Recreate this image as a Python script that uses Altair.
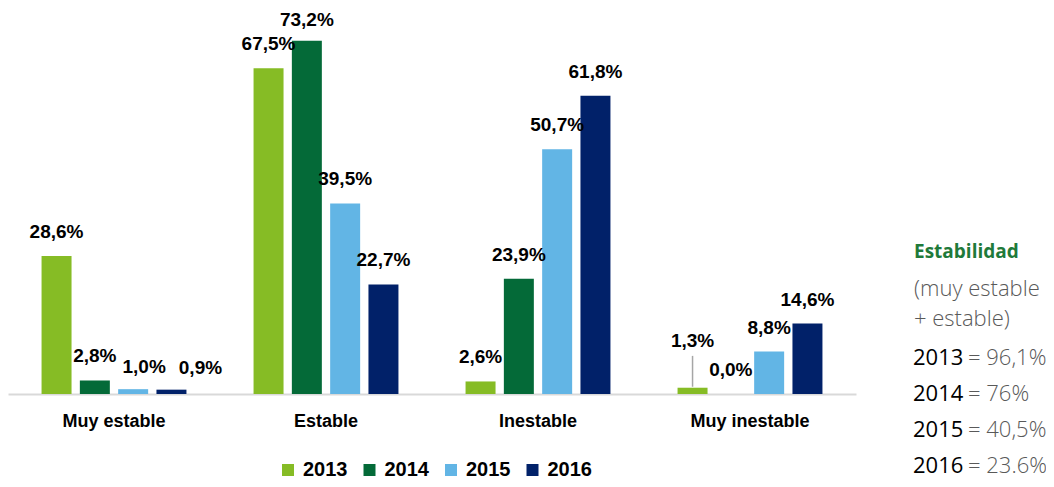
import altair as alt
import pandas as pd

categories = ["Muy estable", "Estable", "Inestable", "Muy inestable"]
years = ["2013", "2014", "2015", "2016"]
v2013 = [28.6, 67.5, 2.6, 1.3]
v2014 = [2.8, 73.2, 23.9, 0.0]
v2015 = [1.0, 39.5, 50.7, 8.8]
v2016 = [0.9, 22.7, 61.8, 14.6]
colors = ["#86BC25", "#046A38", "#62B5E5", "#012169"]

side_title = "Estabilidad"
side_sub = ["(muy estable", "+ estable)"]
side_years = ["2013", "2014", "2015", "2016"]
side_totals = ["96,1%", "76%", "40,5%", "23.6%"]

rows = []
for yr, vals in zip(years, [v2013, v2014, v2015, v2016]):
    for c, v in zip(categories, vals):
        rows.append({"cat": c, "year": yr, "value": v})
df = pd.DataFrame(rows)

BOLDF = "Liberation Sans"
SIDE = "Open Sans"

base = alt.Chart(df).transform_calculate(
    label="replace(format(datum.value, '.1f'), '.', ',') + '%'"
)

x_enc = alt.X("cat:N", sort=categories,
              scale=alt.Scale(paddingInner=0, paddingOuter=0),
              axis=alt.Axis(title=None, labelAngle=0, ticks=False,
                            domainColor="#d9d9d9", domainWidth=2,
                            labelFont=BOLDF, labelFontSize=18,
                            labelFontWeight="bold", labelColor="#000000",
                            labelPadding=18))
xo_enc = alt.XOffset("year:N", sort=years,
                     scale=alt.Scale(paddingInner=0.217, paddingOuter=0.876))
y_enc = alt.Y("value:Q", scale=alt.Scale(domain=[0, 80]), axis=None)

bars = base.mark_bar().encode(
    x=x_enc, xOffset=xo_enc, y=y_enc,
    color=alt.Color("year:N", sort=years,
                    scale=alt.Scale(domain=years, range=colors),
                    legend=alt.Legend(title=None, orient="none",
                                      direction="horizontal",
                                      legendX=270, legendY=452,
                                      symbolType="square", symbolSize=144,
                                      symbolStrokeWidth=0, labelOffset=5,
                                      columnPadding=11.5,
                                      labelFont=BOLDF, labelFontSize=20,
                                      labelFontWeight="bold",
                                      labelColor="#000000")),
)

def labels(filter_expr, dx=0, dy=-24):
    return base.transform_filter(filter_expr).mark_text(
        font=BOLDF, fontSize=19, fontWeight="bold", color="#000000",
        baseline="middle", dx=dx, dy=dy
    ).encode(x=alt.X("cat:N", sort=categories), xOffset=alt.XOffset("year:N", sort=years),
             y="value:Q", text="label:N")

is_a = "datum.cat=='Muy estable' && datum.year=='2015'"
is_b = "datum.cat=='Muy estable' && datum.year=='2016'"
is_c = "datum.cat=='Muy inestable' && datum.year=='2013'"
is_d = "datum.cat=='Estable' && datum.year=='2014'"
special = "(" + is_a + ") || (" + is_b + ") || (" + is_c + ") || (" + is_d + ")"
lab_main = labels("!(" + special + ")")
lab_a = labels(is_a, dx=11, dy=-22)
lab_b = labels(is_b, dx=29, dy=-22)
lab_c = labels(is_c, dy=-47)
lab_d = labels(is_d, dy=-21)

leader = base.transform_filter(is_c).transform_calculate(
    y0="datum.value + 0.2", y1="datum.value + 6.6"
).mark_rule(color="#a6a6a6", strokeWidth=1.5).encode(
    x=alt.X("cat:N", sort=categories), xOffset=alt.XOffset("year:N", sort=years),
    y="y0:Q", y2="y1:Q")

layers = [bars, leader, lab_main, lab_a, lab_b, lab_c, lab_d]

def side_text(txt, x, y, color, weight, size=22, font=SIDE):
    return alt.Chart(pd.DataFrame({"t": [txt]})).mark_text(
        align="left", baseline="middle", font=font, fontSize=size,
        fontWeight=weight, color=color
    ).encode(x=alt.value(x), y=alt.value(y), text="t:N")

layers.append(side_text(side_title, 906, 244, "#1F7A3A", "bold", 19))
for t, yy in zip(side_sub, [281, 311]):
    layers.append(side_text(t, 906, yy, "#595959", 300))
for i, (yr, tot) in enumerate(zip(side_years, side_totals)):
    yy = 350 + i * 36
    layers.append(side_text(yr, 905, yy, "#000000", "normal"))
    layers.append(side_text("= " + tot, 960, yy, "#595959", 300))

chart = alt.layer(*layers).properties(
    width=848, height=386,
    autosize=alt.AutoSizeParams(type="none"),
    padding={"left": 0, "top": 0, "right": 190, "bottom": 93},
).configure(view=alt.ViewConfig(strokeWidth=0))

chart.save("out.html", embed_options={"renderer": "svg", "actions": False})
